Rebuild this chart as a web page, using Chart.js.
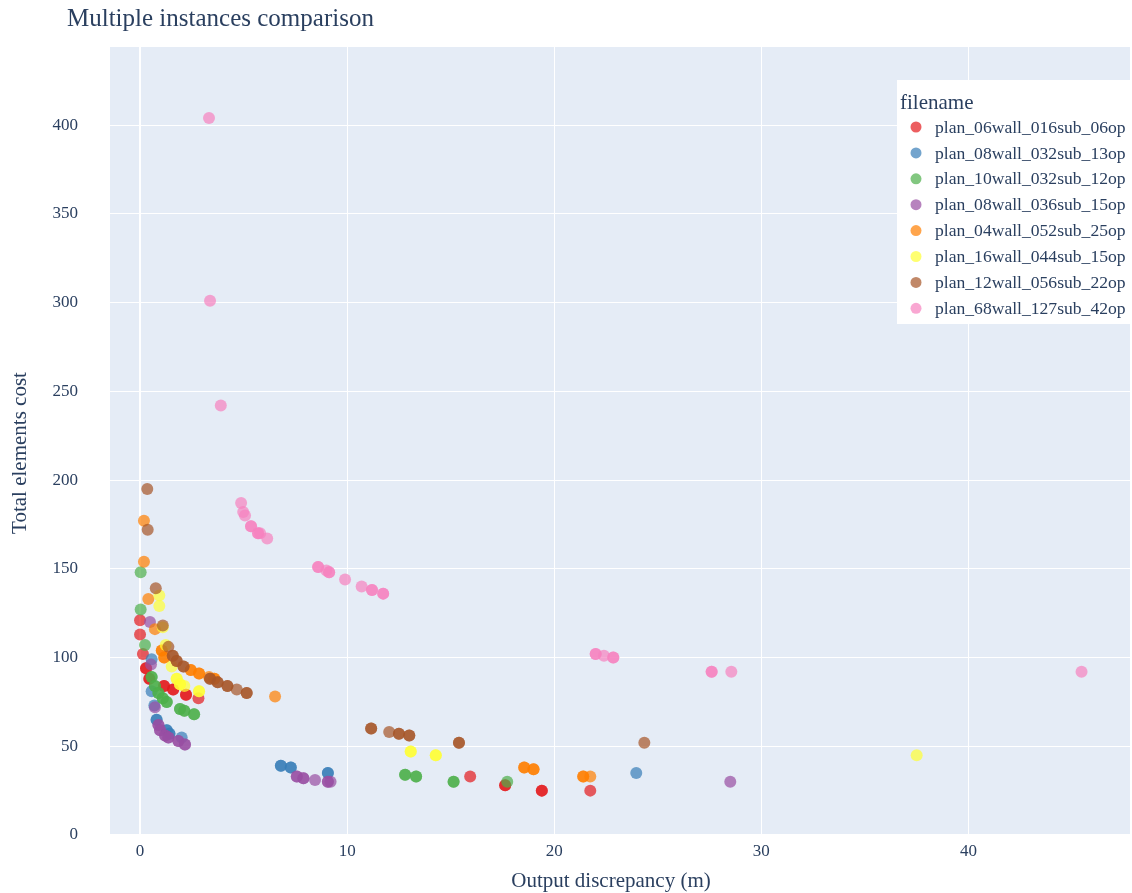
<!DOCTYPE html>
<html>
<head>
<meta charset="utf-8">
<script src="https://cdn.jsdelivr.net/npm/chart.js@4/dist/chart.umd.min.js"></script>
<style>
  html, body { margin: 0; padding: 0; background: #ffffff; }
  #wrap { width: 1132px; height: 893px; }
</style>
</head>
<body>
<div id="wrap"><canvas id="chart" width="1132" height="893"></canvas></div>
<script>
// Series names, in legend order
const seriesNames = [
  'plan_06wall_016sub_06op',
  'plan_08wall_032sub_13op',
  'plan_10wall_032sub_12op',
  'plan_08wall_036sub_15op',
  'plan_04wall_052sub_25op',
  'plan_16wall_044sub_15op',
  'plan_12wall_056sub_22op',
  'plan_68wall_127sub_42op'
];

// Colours (Set1)
const seriesColors = ['#e41a1c', '#377eb8', '#4daf4a', '#984ea3', '#ff7f00', '#ffff33', '#a65628', '#f781bf'];

// Output discrepancy (m) / total elements cost per run; repeated runs appear twice
const plan06X = [0, 0, 0.14, 0.29, 0.29, 0.45, 0.45, 1.16, 1.16, 1.6, 1.6, 2.22, 2.22, 2.82, 15.94, 17.63, 17.63, 19.4, 19.4, 21.74];
const plan06Y = [121, 113, 102, 94, 94, 88, 88, 84, 84, 82, 82, 79, 79, 77, 33, 28, 28, 25, 25, 25];

const plan08aX = [0.56, 0.56, 0.69, 0.8, 0.8, 1.29, 1.29, 1.42, 1.42, 2.01, 6.8, 6.8, 7.28, 7.28, 9.07, 9.07, 23.96];
const plan08aY = [99, 81, 73, 65, 65, 59, 59, 57, 57, 55, 39, 39, 38, 38, 35, 35, 35];

const plan10X = [0.03, 0.03, 0.24, 0.56, 0.56, 0.72, 0.72, 0.89, 0.89, 1.1, 1.1, 1.29, 1.29, 1.93, 1.93, 2.14, 2.14, 2.61, 2.61, 12.8, 12.8, 13.33, 13.33, 15.14, 15.14, 17.73];
const plan10Y = [148, 127, 107, 89, 89, 84, 84, 80, 80, 77, 77, 75, 75, 71, 71, 70, 70, 68, 68, 34, 34, 33, 33, 30, 30, 30];

const plan08bX = [0.48, 0.53, 0.72, 0.89, 0.89, 0.97, 0.97, 1.21, 1.21, 1.37, 1.37, 1.85, 1.85, 2.17, 2.17, 7.57, 7.57, 7.89, 7.89, 8.45, 9.07, 9.07, 9.2, 28.5];
const plan08bY = [120, 96, 72, 62, 62, 59, 59, 56, 56, 55, 55, 53, 53, 51, 51, 33, 33, 32, 32, 31, 30, 30, 30, 30];

const plan04X = [0.19, 0.19, 0.4, 0.72, 1.05, 1.05, 1.17, 1.17, 2.45, 2.45, 2.85, 2.85, 3.33, 3.59, 3.59, 6.52, 18.55, 18.55, 19.0, 19.0, 21.4, 21.4, 21.74];
const plan04Y = [177, 154, 133, 116, 104, 104, 100, 100, 93, 93, 91, 91, 89, 88, 88, 78, 38, 38, 37, 37, 33, 33, 33];

const plan16X = [0.93, 0.93, 1.1, 1.24, 1.53, 1.77, 1.77, 1.93, 1.93, 2.14, 2.85, 2.85, 13.07, 13.07, 14.28, 14.28, 37.5];
const plan16Y = [135, 129, 117, 107, 95, 88, 88, 85, 85, 84, 81, 81, 47, 47, 45, 45, 45];

const plan12X = [0.35, 0.37, 0.76, 1.1, 1.37, 1.58, 1.58, 1.77, 1.77, 2.1, 2.1, 3.38, 3.38, 3.75, 3.75, 4.22, 4.22, 4.67, 5.15, 5.15, 11.16, 11.16, 12.03, 12.5, 12.5, 13.0, 13.0, 15.4, 15.4, 24.35];
const plan12Y = [195, 172, 139, 118, 106, 101, 101, 98, 98, 95, 95, 88, 88, 86, 86, 84, 84, 82, 80, 80, 60, 60, 58, 57, 57, 56, 56, 52, 52, 52];

const plan68X = [3.33, 3.38, 3.9, 4.88, 4.98, 5.07, 5.36, 5.36, 5.7, 5.7, 5.8, 6.14, 8.6, 8.6, 9.0, 9.13, 9.13, 9.9, 10.7, 11.2, 11.2, 11.74, 11.74, 22.0, 22.0, 22.4, 22.85, 22.85, 27.6, 27.6, 28.55, 45.46];
const plan68Y = [404, 301, 242, 187, 182, 180, 174, 174, 170, 170, 170, 167, 151, 151, 149, 148, 148, 144, 140, 138, 138, 136, 136, 102, 102, 101, 100, 100, 92, 92, 92, 92];

// Tick values
const xTickValues = [0, 10, 20, 30, 40];
const yTickValues = [0, 50, 100, 150, 200, 250, 300, 350, 400];

const seriesX = [plan06X, plan08aX, plan10X, plan08bX, plan04X, plan16X, plan12X, plan68X];
const seriesY = [plan06Y, plan08aY, plan10Y, plan08bY, plan04Y, plan16Y, plan12Y, plan68Y];

const TEXT = '#2a3f5f';
const FONT = "'Liberation Serif', 'Times New Roman', serif";
const MARKER_ALPHA = 0.7;

function rgba(hex, a) {
  const n = parseInt(hex.slice(1), 16);
  return `rgba(${(n >> 16) & 255}, ${(n >> 8) & 255}, ${n & 255}, ${a})`;
}

const datasets = seriesNames.map((name, i) => ({
  label: name,
  data: seriesX[i].map((x, k) => ({ x: x, y: seriesY[i][k] })),
  backgroundColor: rgba(seriesColors[i], MARKER_ALPHA),
  borderWidth: 0,
  pointRadius: 6,
  pointHoverRadius: 6,
  order: seriesNames.length - i
}));

// Plot background, heading, axis titles and legend box
const decor = {
  id: 'decor',
  beforeDraw(chart) {
    const { ctx, chartArea: a } = chart;
    ctx.save();
    ctx.fillStyle = '#e5ecf6';
    ctx.fillRect(a.left, a.top, a.right - a.left, a.bottom - a.top);
    ctx.restore();
  },
  afterDraw(chart) {
    const { ctx } = chart;
    ctx.save();
    ctx.fillStyle = TEXT;
    ctx.textBaseline = 'middle';
    ctx.textAlign = 'left';
    ctx.font = `25px ${FONT}`;
    ctx.fillText('Multiple instances comparison', 67, 19);

    // axis titles
    ctx.font = `21px ${FONT}`;
    ctx.textAlign = 'center';
    ctx.fillText('Output discrepancy (m)', 611, 881);
    ctx.save();
    ctx.translate(20, 453);
    ctx.rotate(-Math.PI / 2);
    ctx.fillText('Total elements cost', 0, 0);
    ctx.restore();

    // legend
    ctx.textAlign = 'left';
    const lx = 897, ly = 80, lw = 233, lh = 244;
    ctx.fillStyle = '#ffffff';
    ctx.fillRect(lx, ly, lw, lh);
    ctx.fillStyle = TEXT;
    ctx.font = `21px ${FONT}`;
    ctx.fillText('filename', 900, 103);
    ctx.font = `17.6px ${FONT}`;
    chart.data.datasets.forEach((ds, i) => {
      const cy = 127 + i * 25.9;
      ctx.beginPath();
      ctx.arc(916, cy, 5.5, 0, Math.PI * 2);
      ctx.fillStyle = rgba(seriesColors[i], MARKER_ALPHA);
      ctx.fill();
      ctx.fillStyle = TEXT;
      ctx.fillText(ds.label, 935, cy + 1);
    });
    ctx.restore();
  }
};

new Chart(document.getElementById('chart'), {
  type: 'scatter',
  data: { datasets: datasets },
  options: {
    responsive: false,
    animation: false,
    devicePixelRatio: 1,
    events: [],
    layout: { autoPadding: false, padding: { top: 47, right: 2, left: 0, bottom: 0 } },
    plugins: { legend: { display: false }, title: { display: false }, tooltip: { enabled: false } },
    scales: {
      x: {
        type: 'linear',
        min: -1.45,
        max: 47.8,
        afterBuildTicks(scale) { scale.ticks = xTickValues.map(v => ({ value: v })); },
        afterFit(scale) { scale.height = 58; },
        border: { display: false },
        grid: {
          color: '#ffffff',
          lineWidth: (c) => (c.tick && c.tick.value === 0 ? 2 : 1),
          drawTicks: false
        },
        ticks: { color: TEXT, font: { family: FONT, size: 17 }, padding: 6, maxRotation: 0 }
      },
      y: {
        type: 'linear',
        min: 0,
        max: 444,
        afterBuildTicks(scale) { scale.ticks = yTickValues.map(v => ({ value: v })); },
        afterFit(scale) { scale.width = 110; },
        border: { display: false },
        grid: {
          color: '#ffffff',
          lineWidth: (c) => (c.tick && c.tick.value === 0 ? 2 : 1),
          drawTicks: false
        },
        ticks: { color: TEXT, font: { family: FONT, size: 17 }, padding: 32 }
      }
    }
  },
  plugins: [decor]
});
</script>
</body>
</html>
